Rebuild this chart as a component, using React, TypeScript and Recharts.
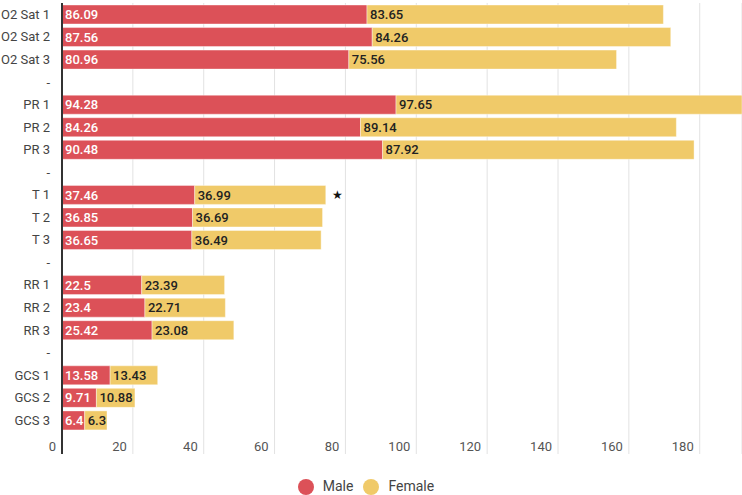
import React from 'react';
import { BarChart, Bar, XAxis, YAxis, CartesianGrid, Legend, LabelList } from 'recharts';

const categories = [
  'O2 Sat 1', 'O2 Sat 2', 'O2 Sat 3', '-',
  'PR 1', 'PR 2', 'PR 3', '-',
  'T 1', 'T 2', 'T 3', '-',
  'RR 1', 'RR 2', 'RR 3', '-',
  'GCS 1', 'GCS 2', 'GCS 3',
];
const maleValues = [
  86.09, 87.56, 80.96, null,
  94.28, 84.26, 90.48, null,
  37.46, 36.85, 36.65, null,
  22.5, 23.4, 25.42, null,
  13.58, 9.71, 6.4,
];
const femaleValues = [
  83.65, 84.26, 75.56, null,
  97.65, 89.14, 87.92, null,
  36.99, 36.69, 36.49, null,
  23.39, 22.71, 23.08, null,
  13.43, 10.88, 6.3,
];
const notes = ['', '', '', '', '', '', '', '', '★', '', '', '', '', '', '', '', '', '', ''];
const xTicks = [0, 20, 40, 60, 80, 100, 120, 140, 160, 180];

const MALE = '#dc5158';
const FEMALE = '#f0ca69';
const FONT = 'Roboto, sans-serif';

// last blank row leaves room for the x tick labels inside the grid
const data = [
  ...categories.map((name, i) => ({
    name,
    male: maleValues[i],
    female: femaleValues[i],
    note: notes[i],
  })),
  { name: '', male: null, female: null, note: '' },
];

const XTick = (props: any) => {
  const { x, payload } = props;
  return (
    <text x={x - 6} y={451} textAnchor="end" fontSize={13} fontFamily={FONT} fill="#555">
      {payload.value}
    </text>
  );
};

const App: React.FC = () => {
  return (
    <div style={{ position: 'absolute', left: 0, top: 0, fontFamily: FONT }}>
      <BarChart
        width={742}
        height={495}
        data={data}
        layout="vertical"
        margin={{ top: 3, right: 0, left: 0, bottom: 0 }}
        barCategoryGap={2}
      >
        <CartesianGrid horizontal={false} stroke="#e2e2e2" />
        <XAxis
          type="number"
          domain={[0, 'dataMax']}
          ticks={xTicks}
          axisLine={false}
          tickLine={false}
          height={1}
          tick={<XTick />}
          interval={0}
        />
        <YAxis
          type="category"
          dataKey="name"
          width={62}
          interval={0}
          tickLine={false}
          tickMargin={6}
          axisLine={{ stroke: '#333', strokeWidth: 2 }}
          tick={{ fontSize: 13, fill: '#444', fontFamily: FONT }}
        />
        <Legend
          verticalAlign="bottom"
          height={19}
          iconType="circle"
          iconSize={16}
          itemSorter={(item: any) => (item.value === 'Male' ? 0 : 1)}
          wrapperStyle={{ paddingTop: 21 }}
          formatter={(v: string) => <span style={{ color: '#444', fontSize: 14, marginLeft: 5 }}>{v}</span>}
        />
        <Bar dataKey="male" name="Male" stackId="a" fill={MALE} stroke="#fff" strokeOpacity={0.4} isAnimationActive={false}>
          <LabelList dataKey="male" position="insideLeft" offset={3} fill="#fff" fontSize={13} fontWeight={500} fontFamily={FONT} />
        </Bar>
        <Bar dataKey="female" name="Female" stackId="a" fill={FEMALE} stroke="#fff" strokeOpacity={0.4} isAnimationActive={false}>
          <LabelList dataKey="female" position="insideLeft" offset={3} fill="#222" fontSize={13} fontWeight={500} fontFamily={FONT} />
          <LabelList dataKey="note" position="right" offset={6} fill="#111" fontSize={12} fontFamily={FONT} />
        </Bar>
      </BarChart>
    </div>
  );
};

export default App;
